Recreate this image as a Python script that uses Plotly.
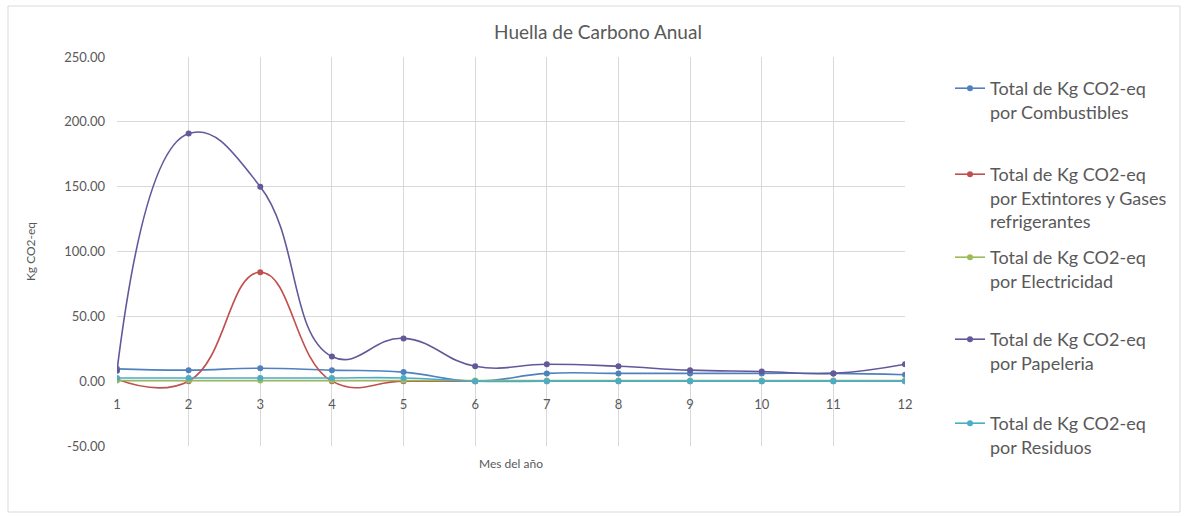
import plotly.graph_objects as go

# Monthly carbon footprint by source (kg CO2-eq)
meses = [1, 2, 3, 4, 5, 6, 7, 8, 9, 10, 11, 12]
combustibles = [9.5, 8.5, 10, 8.5, 7, 0, 6, 6, 6, 6, 6, 5]
extintores = [1.5, 0, 84, 0, 0, 0, 0, 0, 0, 0, 0, 0]
electricidad = [0.5, 0.5, 0.5, 0.5, 0.5, 0.5, 0.5, 0.5, 0.5, 0.5, 0.5, 0.5]
papeleria = [8, 191, 150, 19, 33, 11.5, 13, 11.5, 8.5, 7.5, 6, 13]
residuos = [2.5, 2.5, 2.5, 2.5, 2.5, 0, 0, 0, 0, 0, 0, 0]

nombres = [
    "Total de Kg CO2-eq<br>por Combustibles",
    "Total de Kg CO2-eq<br>por Extintores y Gases<br>refrigerantes",
    "Total de Kg CO2-eq<br>por Electricidad",
    "Total de Kg CO2-eq<br>por Papeleria",
    "Total de Kg CO2-eq<br>por Residuos",
]
series = [combustibles, extintores, electricidad, papeleria, residuos]
colores = ["#4F81BD", "#C0504D", "#9BBB59", "#62589A", "#4BACC6"]

W, H = 1186, 516
L, R, T, B = 117, 905, 57, 446
FONT = "Lato, 'Open Sans', sans-serif"
GRAY = "#595959"


def px_x(p):
    return (p - L) / (R - L)


def px_y(p):
    return (B - p) / (B - T)


fig = go.Figure()
legend_tops = [70, 156, 239, 321, 405]
legend_ids = ["legend", "legend2", "legend3", "legend4", "legend5"]

for nombre, vals, col, lid in zip(nombres, series, colores, legend_ids):
    fig.add_trace(go.Scatter(
        x=meses, y=vals, name=nombre, mode="lines+markers",
        line=dict(color=col, width=1.6, shape="spline", smoothing=1.3),
        marker=dict(color=col, size=6, symbol="circle"),
        legend=lid,
    ))

legend_common = dict(
    font=dict(family=FONT, size=18, color=GRAY),
    bgcolor="rgba(0,0,0,0)", borderwidth=0,
    xanchor="left", yanchor="top", valign="top",
    itemwidth=30, tracegroupgap=0,
)
layout_legends = {}
for lid, top in zip(legend_ids, legend_tops):
    layout_legends[lid] = dict(x=px_x(950), y=px_y(top), **legend_common)

fig.update_layout(
    width=W, height=H,
    margin=dict(l=L, r=W - R, t=T, b=H - B),
    paper_bgcolor="white", plot_bgcolor="white",
    font=dict(family=FONT, color=GRAY),
    title=dict(text="Huella de Carbono Anual", x=598 / W, xanchor="center",
               y=1 - 32 / H, yanchor="middle",
               font=dict(family=FONT, size=19, color=GRAY)),
    showlegend=True,
    **layout_legends,
)

fig.update_xaxes(
    range=[1, 12], tickmode="array", tickvals=meses,
    ticktext=[str(m) for m in meses],
    showgrid=True, gridcolor="#D9D9D9", gridwidth=1,
    zeroline=False, showline=False,
    anchor="free", position=50 / 300,
    ticks="", ticklabelstandoff=14,
    tickfont=dict(family=FONT, size=13, color=GRAY),
)
fig.update_yaxes(
    range=[-50, 250], tickmode="array",
    tickvals=[-50, 0, 50, 100, 150, 200, 250],
    ticktext=["-50.00", "0.00", "50.00", "100.00", "150.00", "200.00", "250.00"],
    showgrid=True, gridcolor="#D9D9D9", gridwidth=1,
    zeroline=False, showline=False, ticks="",
    ticklabelstandoff=11,
    tickfont=dict(family=FONT, size=13, color=GRAY),
    title=dict(text="Kg CO2-eq", font=dict(family=FONT, size=12, color=GRAY),
               standoff=26),
)

# axis title for months, below the plot area
fig.add_annotation(
    text="Mes del año", xref="paper", yref="paper",
    x=0.5, y=px_y(463), xanchor="center", yanchor="middle",
    showarrow=False, font=dict(family=FONT, size=12, color=GRAY),
)

# chart frame
fig.add_shape(
    type="rect", xref="paper", yref="paper",
    x0=px_x(8), x1=px_x(1180), y0=px_y(512), y1=px_y(6),
    line=dict(color="#D9D9D9", width=1), fillcolor="rgba(0,0,0,0)",
    layer="below",
)

fig.write_html("out.html")
